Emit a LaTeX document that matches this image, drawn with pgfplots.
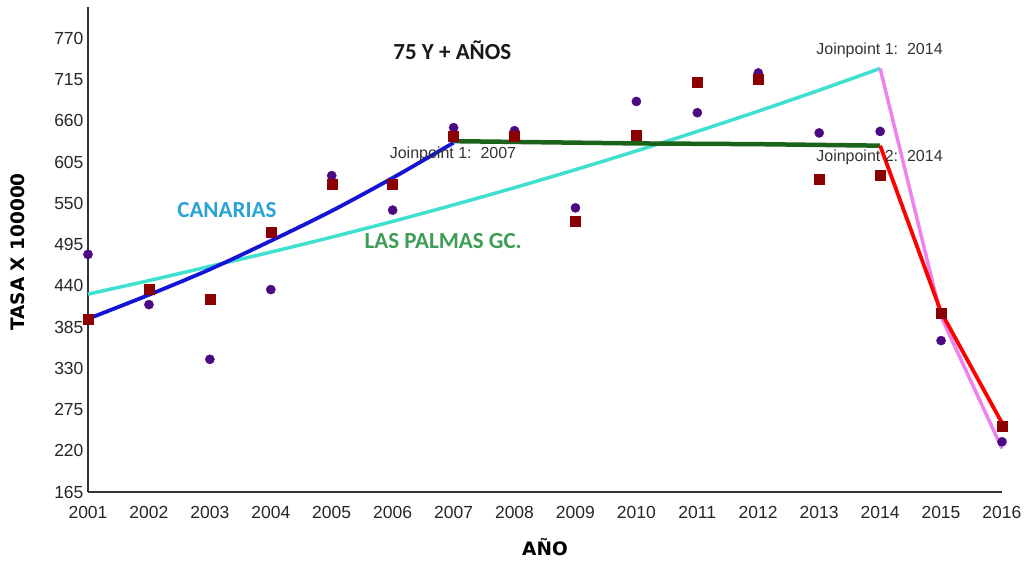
\documentclass[border=0pt]{standalone}
\usepackage{fontspec}
\setmainfont{Liberation Sans}
\newfontfamily\carlito{Carlito}
\newfontfamily\dejavu{DejaVu Sans}
\usepackage{pgfplots}
\pgfplotsset{compat=1.18}
\definecolor{ptpurple}{RGB}{75,10,130}
\definecolor{ptred}{RGB}{139,0,0}
\definecolor{lblue}{RGB}{20,20,215}
\definecolor{lturq}{RGB}{64,224,208}
\definecolor{lgreen}{RGB}{25,100,25}
\definecolor{lred}{RGB}{255,0,0}
\definecolor{lviolet}{RGB}{238,130,238}
\definecolor{tcan}{RGB}{41,163,214}
\definecolor{tlp}{RGB}{60,158,84}
\begin{document}
\begin{tikzpicture}[x=1pt,y=1pt]
\useasboundingbox (0,0) rectangle (1030,561);
\begin{axis}[at={(88pt,69pt)}, anchor=south west, scale only axis,
  width=914pt, height=485pt,
  xmin=2001, xmax=2016, ymin=165, ymax=812, clip=false,
  axis x line=bottom, axis y line=left,
  axis line style={-, black!80, line width=1.3pt},
  xtick={2001,...,2016}, ytick={165,220,...,770},
  major tick length=0pt,
  tick label style={font=\fontsize{17.5}{20}\selectfont, text=black!85},
  /pgf/number format/assume math mode=true,
  /pgf/number format/set thousands separator={},
  xticklabel style={yshift=-11pt},
  yticklabel style={xshift=-1pt},
]
% Canarias observed (circles)
\addplot[only marks, mark=*, mark size=4.6pt, color=ptpurple] coordinates {
(2001,482) (2002,415) (2003,342) (2004,435) (2005,587) (2006,541) (2007,651) (2008,647)
(2009,544) (2010,686) (2011,671) (2012,724) (2013,644) (2014,646) (2015,367) (2016,232)};
% Las Palmas observed (squares)
\addplot[only marks, mark=square*, mark size=5pt, color=ptred] coordinates {
(2001,396) (2002,436) (2003,422) (2004,511) (2005,576) (2006,575) (2007,639) (2008,639)
(2009,526) (2010,641) (2011,712) (2012,716) (2013,582) (2014,588) (2015,404) (2016,253)};
% Canarias fit
\addplot[color=lturq, line width=3.5pt, smooth] coordinates {
(2001,429) (2002,447) (2003,466) (2004,485) (2005,505) (2006,526) (2007,548) (2008,571)
(2009,595) (2010,620) (2011,646) (2012,673) (2013,701) (2014,730)};
\addplot[color=lviolet, line width=3.5pt] coordinates {(2014,730) (2015,399) (2016,223)};
% Las Palmas fit
\addplot[color=lblue, line width=3.8pt, smooth] coordinates {
(2001,396) (2002,428) (2003,462) (2004,500) (2005,540) (2006,584) (2007,631)};
\addplot[color=lgreen, line width=4.5pt] coordinates {
(2007,633) (2008,632) (2009,631) (2010,630) (2011,629.5) (2012,629) (2013,628) (2014,627)};
\addplot[color=lred, line width=3.8pt] coordinates {(2014,627) (2015,405) (2016,257)};
% texts
\node[font=\carlito\bfseries\fontsize{23}{25}\selectfont, text=black!90] at (axis cs:2006.98,754) {75 Y + AÑOS};
\node[font=\carlito\bfseries\fontsize{23}{25}\selectfont, text=tcan] at (axis cs:2003.28,541) {CANARIAS};
\node[font=\carlito\bfseries\fontsize{23}{25}\selectfont, text=tlp] at (axis cs:2006.83,500) {LAS PALMAS GC.};
\node[anchor=west, inner sep=0pt, font=\fontsize{16}{18}\selectfont, text=black!80] at (axis cs:2005.95,615) {Joinpoint 1:\ \ 2007};
\node[anchor=west, inner sep=0pt, font=\fontsize{16}{18}\selectfont, text=black!80] at (axis cs:2012.95,754) {Joinpoint 1:\ \ 2014};
\node[anchor=west, inner sep=0pt, font=\fontsize{16}{18}\selectfont, text=black!80] at (axis cs:2012.95,611) {Joinpoint 2:\ \ 2014};
\end{axis}
\node[font=\dejavu\bfseries\fontsize{18.5}{20}\selectfont, rotate=90] at (18,309) {TASA X 100000};
\node[font=\dejavu\bfseries\fontsize{18.5}{20}\selectfont] at (545,14) {AÑO};
\end{tikzpicture}
\end{document}
